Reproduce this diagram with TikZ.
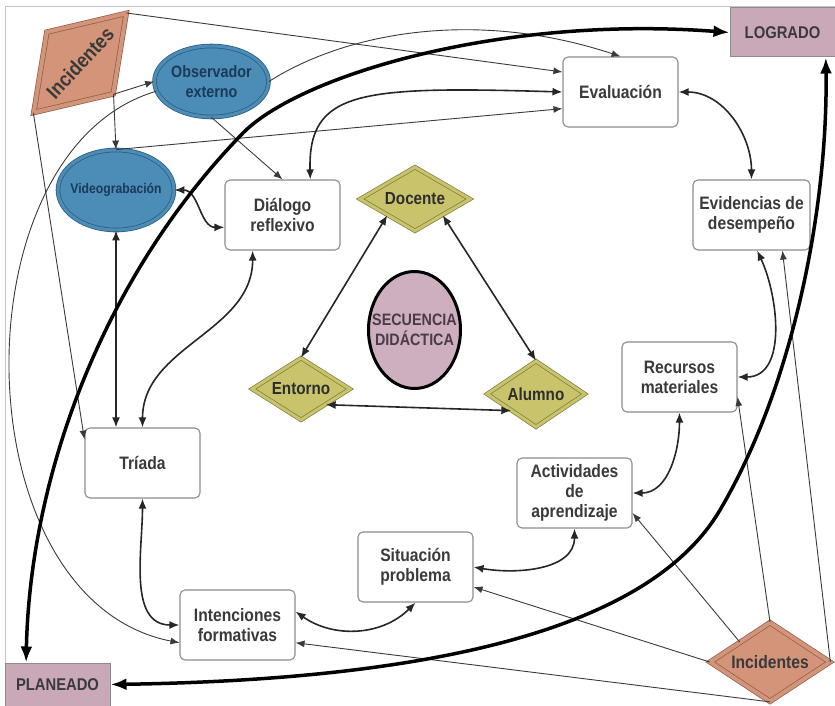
\documentclass[tikz,border=0pt]{standalone}
\usepackage{fontspec}
\setmainfont{Liberation Sans}[FakeStretch=0.87]
\usetikzlibrary{shapes.geometric,arrows.meta}

\definecolor{boxline}{HTML}{8C8C8C}
\definecolor{txt}{HTML}{3A3A3A}
\definecolor{mauve}{HTML}{C9A8B8}
\definecolor{secfill}{HTML}{CDAFC0}
\definecolor{sectxt}{HTML}{4B3B48}
\definecolor{olive}{HTML}{C9C46C}
\definecolor{oliveline}{HTML}{7E7A3C}
\definecolor{salmon}{HTML}{D39479}
\definecolor{salmonline}{HTML}{8C5E4C}
\definecolor{sky}{HTML}{4B8DB7}
\definecolor{skyline}{HTML}{2F5E80}
\definecolor{navy}{HTML}{1B3A57}
\definecolor{framegray}{HTML}{C4C4C4}

\begin{document}
\begin{tikzpicture}[x=1pt, y=-1pt,
    stage/.style={draw=boxline, fill=white, line width=1.1pt, rounded corners=5pt, minimum width=115pt, minimum height=70pt, align=center, text=txt, font=\fontsize{18}{20}\selectfont\bfseries},
    milestone/.style={draw=boxline, fill=mauve, line width=1pt, text=txt, font=\fontsize{17}{20}\selectfont\bfseries},
    agent/.style={diamond, draw=oliveline, fill=olive, double=olive, double distance=3pt, line width=0.7pt, aspect=1.6, inner sep=1pt, text=txt!80!black, font=\fontsize{17.5}{20}\selectfont\bfseries},
    incident/.style={diamond, draw=salmonline, fill=salmon, double=salmon, double distance=4pt, line width=0.7pt, aspect=1.5, inner sep=1pt, text=txt, font=\fontsize{18}{20}\selectfont\bfseries},
    media/.style={ellipse, draw=skyline, fill=sky, double=sky, double distance=3pt, line width=0.8pt, inner sep=0pt, align=center, text=navy},
    influence/.style={-{Latex[length=9pt,width=7pt]}, line width=0.9pt, draw=txt},
    relation/.style={{Latex[length=10pt,width=8pt]}-{Latex[length=10pt,width=8pt]}, line width=1.6pt, draw=black!85},
    route/.style={{Latex[length=16pt,width=12pt]}-{Latex[length=16pt,width=12pt]}, line width=3.5pt, draw=black}]

    \useasboundingbox (0,0) rectangle (835,706);
    \draw[framegray, line width=1pt] (5,7) rectangle (835,706);

    \node[milestone, minimum width=105pt, minimum height=49pt] (logrado) at (782.5,32.5) {LOGRADO};
    \node[milestone, minimum width=105pt, minimum height=43pt] (planeado) at (57.5,684.5) {PLANEADO};

    \node[stage] (evaluacion) at (620.5,92) {Evaluación};
    \node[stage, minimum width=117pt] (evidencias) at (751.5,215) {Evidencias de\\desempeño};
    \node[stage] (dialogo) at (282.5,215) {Diálogo\\reflexivo};
    \node[stage] (recursos) at (679.5,377) {Recursos\\materiales};
    \node[stage] (actividades) at (574.5,493) {Actividades\\de\\aprendizaje};
    \node[stage] (situacion) at (415.5,567) {Situación\\problema};
    \node[stage] (intenciones) at (237.5,625) {Intenciones\\formativas};
    \node[stage] (triada) at (142.5,463) {Tríada};

    \node[media, minimum width=116pt, minimum height=80pt, inner xsep=-5pt, font=\fontsize{14}{17}\selectfont\bfseries] (video) at (116,190) {Videograbación};
    \node[media, minimum width=111pt, minimum height=71pt, font=\fontsize{16.5}{20}\selectfont\bfseries] (observador) at (211.5,81.5) {Observador\\externo};

    \node[ellipse, draw=black, line width=3pt, fill=secfill, minimum width=92pt, minimum height=117pt, inner xsep=-11pt, inner ysep=0pt, align=center, text=sectxt, font=\fontsize{16.5}{20}\selectfont\bfseries] (secuencia) at (414.5,330) {SECUENCIA\\DIDÁCTICA};

    \node[agent, minimum width=110pt, minimum height=64pt] (docente) at (415,199) {Docente};
    \node[agent, minimum width=98pt, minimum height=62pt] (entorno) at (301,389) {Entorno};
    \node[agent, minimum width=98pt, minimum height=66pt] (alumno) at (536,394) {Alumno};

    \node[incident, minimum width=120pt, minimum height=79pt] (incidentesB) at (770,662) {Incidentes};
    \node[incident, rotate=47, minimum width=136pt, minimum height=91pt, font=\fontsize{20.5}{24}\selectfont\bfseries] (incidentesA) at (80,63) {Incidentes};

    \draw[influence] (incidentesA.south) -- (observador.west);
    \draw[influence] (incidentesA.south) -- (video.north);
    \draw[influence] (incidentesA.west) -- (triada.158);
    \draw[influence] (incidentesA.east) -- (evaluacion.161);
    \draw[influence] (video.north) -- (evaluacion.196);
    \draw[influence] (observador.east) .. controls (350,30) and (480,10) .. (evaluacion.north);
    \draw[influence] (observador.south) -- (dialogo.north);
    \draw[influence] (observador.190) .. controls (-45,150) and (-40,600) .. (intenciones.197);

    \draw[influence] (incidentesB.north) -- (recursos.-19);
    \draw[influence] (incidentesB.east) -- (evidencias.-49);
    \draw[influence] (incidentesB.north west) -- (actividades.-19);
    \draw[influence] (incidentesB.west) -- (situacion.-19);
    \draw[influence] (incidentesB.south) -- (intenciones.-17);

    \draw[relation] (dialogo.52) .. controls (308,90) and (360,86) .. (evaluacion.west);
    \draw[relation] (video.east) to[out=0, in=180] (dialogo.192);
    \draw[relation] (video.south) -- (video.south |- triada.north);
    \draw[relation] (dialogo.230) to[out=-90, in=90] (triada.north);
    \draw[relation] (triada.south) to[out=-90, in=180] (intenciones.west);
    \draw[relation] (intenciones.13) to[out=-35, in=-135] (situacion.south);
    \draw[relation] (situacion.east) to[out=-10, in=-90] (actividades.south);
    \draw[relation] (actividades.east) to[out=0, in=-90] (recursos.south);
    \draw[relation] (recursos.east) to[out=0, in=-65] (evidencias.-81);
    \draw[relation] (evaluacion.east) to[out=0, in=90] (evidencias.north);

    \draw[relation] (docente.south west) -- (entorno.north);
    \draw[relation] (docente.south east) -- (alumno.north);
    \draw[relation] (entorno.south east) -- (alumno.south west);

    \draw[route] (planeado.145) .. controls (30,480) and (100,280) .. (243,133) .. controls (299,76) and (500,15) .. (logrado.west);
    \draw[route] (planeado.east) .. controls (400,680) and (644,639) .. (720,510) .. controls (796,381) and (828,200) .. (logrado.-30);

\end{tikzpicture}
\end{document}
